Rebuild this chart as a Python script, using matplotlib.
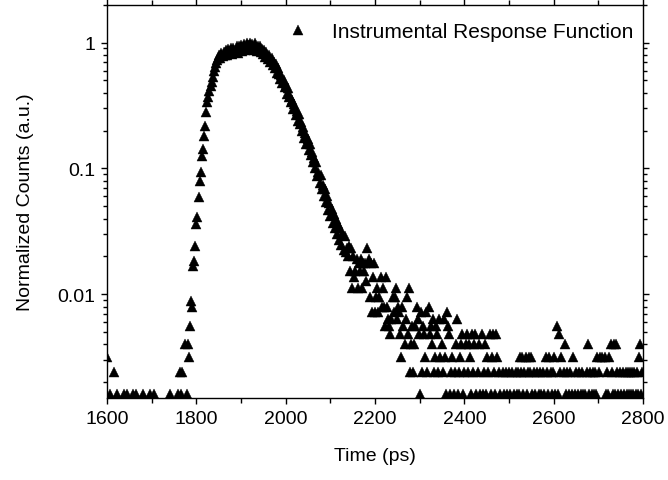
import numpy as np
import matplotlib
matplotlib.use("Agg")
import matplotlib.pyplot as plt
from matplotlib.ticker import MultipleLocator, LogLocator, FixedLocator, FixedFormatter, NullFormatter

plt.rcParams['font.family'] = ['Liberation Sans', 'DejaVu Sans']

# time axis of the TCSPC histogram
start_ps = 1600.0
channel_ps = 2.44

# raw counts per channel (level n -> n/peak)
baseline_counts = [
    4, 0, 1, 2, 0, 1, 3, 0, 1, 2,
    0, 1, 0, 0, 1, 0, 2, 1, 2, 0,
    1, 0, 0, 1, 2, 0, 1, 2, 0, 0,
    1, 0, 1, 2, 0, 0, 1, 0, 0, 2,
    0, 1, 0, 2, 0, 0, 1, 0, 0, 1,
    0, 0, 1, 0, 0, 1, 0, 0, 2, 0,
    1, 0, 0, 1, 0, 2, 1, 3, 2, 3,
    1, 1, 5, 2, 5, 4, 7, 11, 10, 21,
]
rise_counts = [
    23, 30, 45, 51, 74, 100, 117, 158, 177, 226,
    272, 348, 420, 462, 512, 562, 612, 662, 738, 800,
    860, 905, 940, 990, 950, 1040, 975, 1060, 990, 1085,
    1000, 1110, 1035, 1080, 1130, 1010, 1140, 1050, 1100, 1165,
    1040, 1170, 1090, 1200, 1070, 1150, 1210, 1095, 1240, 1120,
    1200, 1250, 1110, 1220, 1160, 1090, 1230, 1130, 1070, 1180,
]
decay_counts = [
    1180, 1060, 1120, 1020, 1100, 960, 1060, 1000, 920, 990,
    880, 950, 830, 870, 790, 840, 720, 780, 700, 640,
    690, 600, 630, 550, 580, 490, 540, 460, 470, 420,
    440, 370, 410, 330, 360, 300, 340, 280, 290, 250,
    265, 220, 240, 195, 215, 175, 195, 160, 170, 140,
    150, 125, 140, 108, 118, 96, 110, 86, 92, 76,
    86, 68, 75, 58, 66, 52, 60, 46, 54, 42,
    50, 38, 45, 34, 42, 31, 38, 28, 36, 27,
]
tail_counts = [
    29, 25, 30, 19, 29, 14, 25, 17, 19, 24,
    14, 22, 19, 24, 14, 22, 19, 22, 16, 29,
    24, 12, 22, 9, 17, 22, 9, 12, 14, 9,
    12, 17, 10, 14, 10, 7, 17, 10, 8, 7,
    6, 8, 12, 9, 12, 14, 8, 10, 9, 6,
    4, 10, 7, 5, 8, 12, 6, 14, 3, 5,
    7, 3, 5, 7, 10, 8, 6, 2,
]
noise_counts = [
    9, 3, 7, 6, 4, 9, 3, 10, 6, 7,
    5, 8, 3, 4, 7, 6, 3, 8, 4, 5,
    3, 8, 4, 2, 9, 7, 6, 2, 3, 4,
    2, 3, 5, 8, 2, 3, 4, 5, 6, 2,
    3, 5, 6, 3, 5, 4, 2, 6, 3, 5,
    6, 2, 3, 5, 2, 1, 6, 2, 3, 5,
    2, 4, 3, 6, 2, 4, 6, 3, 2, 6,
    4, 1, 3, 2, 0, 3, 2, 1, 3, 2,
    0, 3, 2, 1, 3, 2, 0, 3, 2, 3,
    2, 4, 3, 4, 2, 3, 4, 2, 3, 4,
    3, 4, 2, 1, 3, 2, 0, 3, 2, 3,
    2, 1, 3, 2, 0, 4, 3, 2, 4, 3,
    2, 3, 4, 2, 1, 7, 2, 6, 3, 4,
    1, 3, 5, 2, 3, 0, 2, 3, 1, 2,
    4, 2, 3, 0, 2, 3, 1, 2, 3, 2,
    1, 2, 3, 5, 2, 3, 0, 2, 3, 2,
    3, 2, 4, 3, 4, 1, 4, 0, 1, 4,
    2, 3, 2, 4, 5, 3, 2, 5, 2, 5,
    3, 2, 1, 3, 2, 3, 2, 0, 3, 2,
    3, 2, 3, 2, 3, 2, 3, 2, 3, 2, 4, 5, 2, 3,
]

x_ticks = [1600, 1800, 2000, 2200, 2400, 2600, 2800]
y_ticks = [0.01, 0.1, 1]
y_tick_labels = ['0.01', '0.1', '1']
legend_label = 'Instrumental Response Function'

counts = np.array(baseline_counts + rise_counts + decay_counts + tail_counts + noise_counts, dtype=float)
time_ps = start_ps + channel_ps * np.arange(len(counts))
norm = np.where(counts > 0, counts / counts.max(), np.nan)

fig = plt.figure(figsize=(6.68, 4.81), dpi=100)
ax = fig.add_axes([107 / 668, 1 - 399 / 481, 536 / 668, 393.3 / 481])

ax.plot(time_ps, norm, linestyle='none', marker='^', color='black',
        markersize=6.5, markeredgewidth=0.3, label=legend_label)

ax.set_yscale('log')
ax.set_xlim(1600, 2800)
ax.set_ylim(0.0015, 2.0)

ax.xaxis.set_major_locator(FixedLocator(x_ticks))
ax.xaxis.set_minor_locator(MultipleLocator(100))
ax.yaxis.set_major_locator(FixedLocator(y_ticks))
ax.yaxis.set_major_formatter(FixedFormatter(y_tick_labels))
ax.yaxis.set_minor_locator(LogLocator(base=10, subs=np.arange(2, 10)))
ax.yaxis.set_minor_formatter(NullFormatter())

ax.tick_params(which='both', direction='out', top=True, right=True,
               labelsize=14, width=1.0, colors='black')
ax.tick_params(which='major', length=4.5, pad=4)
ax.tick_params(which='minor', length=2.6)
ax.tick_params(axis='x', which='minor', length=3.8)
for s in ax.spines.values():
    s.set_linewidth(1.0)

ax.set_xlabel('Time (ps)', fontsize=14)
ax.set_ylabel('Normalized Counts (a.u.)', fontsize=14)
ax.xaxis.set_label_coords(0.5, -0.125)
ax.yaxis.set_label_coords(-0.137, 0.5)

ax.legend(loc='center left', bbox_to_anchor=((287.6 - 107) / 536, 0.931),
          frameon=False, fontsize=15, handlelength=1.0, handletextpad=1.15,
          borderpad=0, borderaxespad=0, numpoints=1, markerscale=1.15)

fig.savefig('out.png', dpi=100)
